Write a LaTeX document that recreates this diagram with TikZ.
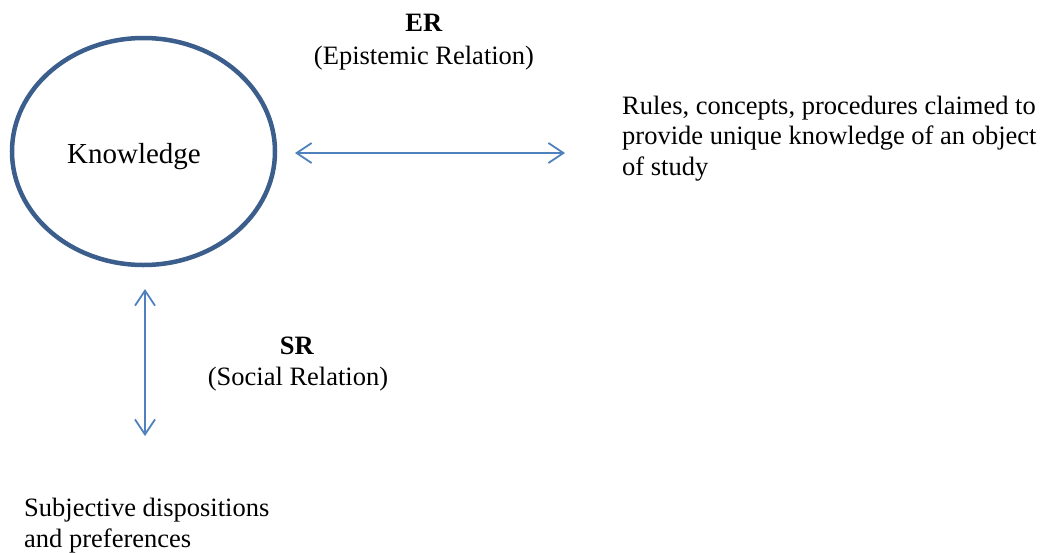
\documentclass[tikz,border=0pt]{standalone}
\usepackage{fontspec}
\setmainfont{Liberation Serif}
\usetikzlibrary{arrows.meta,shapes.geometric}
\definecolor{ellblue}{HTML}{3B5E8C}
\definecolor{arrblue}{HTML}{4F81BD}
\tikzset{
  txt/.style={inner sep=0pt, font=\fontsize{26.5}{30.5}\selectfont},
  bigtxt/.style={inner sep=0pt, font=\fontsize{29}{33}\selectfont},
  blocktxt/.style={txt, align=left, anchor=base west},
  conn/.style={draw=arrblue, line width=1.8pt, {Straight Barb[length=15pt,width=20pt,line width=1.8pt]}-{Straight Barb[length=15pt,width=20pt,line width=1.8pt]}},
}
\begin{document}
\begin{tikzpicture}[x=1pt,y=-1pt]
\useasboundingbox (0,0) rectangle (1044,552);
\node[draw=ellblue, line width=4.5pt, ellipse, minimum width=263pt, minimum height=227pt, inner sep=0pt] (K) at (143.5,151.5) {};
\node[bigtxt, anchor=base] (Ktxt) at (134,163) {Knowledge};
\node[txt, anchor=base] (ER) at (424,31) {\textbf{ER}};
\node[txt, anchor=base] (ERl) at (424,64) {(Epistemic Relation)};
\node[blocktxt] (rules) at (622,175) {Rules, concepts, procedures claimed to\\provide unique knowledge of an object\\of study};
\node[txt, anchor=base] (SR) at (297,354) {\textbf{SR}};
\node[txt, anchor=base] (SRl) at (298,385) {(Social Relation)};
\node[blocktxt] (subj) at (24,547) {Subjective dispositions\\and preferences};
\coordinate (erL) at (295,153);
\coordinate (erR) at (565,153);
\coordinate (srT) at (145,289);
\coordinate (srB) at (145,436);
\draw[conn] (erL) -- (erR);
\draw[conn] (srT) -- (srB);
\end{tikzpicture}
\end{document}
